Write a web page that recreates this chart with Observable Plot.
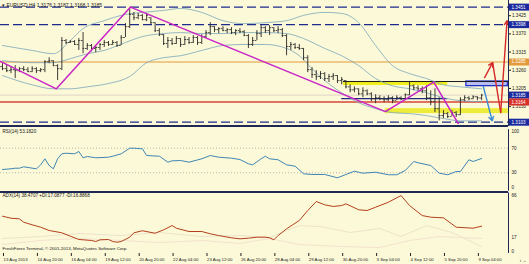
<!DOCTYPE html>
<html><head><meta charset="utf-8">
<script src="https://cdn.jsdelivr.net/npm/d3@7"></script>
<script src="https://cdn.jsdelivr.net/npm/@observablehq/plot@0.6"></script>
<style>
html,body{margin:0;padding:0;background:#fcf9d8;}
#wrap{position:relative;width:529px;height:264px;background:#fcf9d8;overflow:hidden;font-family:"Liberation Sans",Arial,sans-serif;}
#wrap svg{position:absolute;left:0;}
.t{position:absolute;white-space:nowrap;color:#151515;line-height:1;font-family:"Liberation Sans",Arial,sans-serif;}
.sep{position:absolute;left:0;width:508px;height:2px;background:#1f2757;}
</style></head><body><div id="wrap"></div>
<script>
// ---------- DATA ----------
const high = [1.3280,1.3277,1.3271,1.3274,1.3268,1.3271,1.3268,1.3271,1.3268,1.3265,1.3289,1.3298,1.3289,1.3277,1.3359,1.3353,1.3350,1.3350,1.3356,1.3374,1.3341,1.3338,1.3332,1.3341,1.3350,1.3347,1.3350,1.3347,1.3365,1.3401,1.3450,1.3435,1.3432,1.3429,1.3432,1.3419,1.3404,1.3386,1.3368,1.3359,1.3356,1.3362,1.3356,1.3362,1.3359,1.3365,1.3362,1.3368,1.3380,1.3404,1.3392,1.3389,1.3392,1.3386,1.3389,1.3383,1.3386,1.3380,1.3368,1.3359,1.3380,1.3395,1.3392,1.3395,1.3389,1.3392,1.3386,1.3368,1.3344,1.3341,1.3338,1.3326,1.3304,1.3268,1.3259,1.3256,1.3253,1.3247,1.3250,1.3244,1.3238,1.3229,1.3216,1.3210,1.3204,1.3207,1.3201,1.3192,1.3186,1.3183,1.3180,1.3183,1.3180,1.3183,1.3180,1.3189,1.3223,1.3216,1.3213,1.3210,1.3213,1.3198,1.3204,1.3177,1.3138,1.3132,1.3138,1.3135,1.3177,1.3183,1.3180,1.3183,1.3180,1.3187];
const low = [1.3259,1.3253,1.3250,1.3235,1.3253,1.3256,1.3253,1.3253,1.3250,1.3253,1.3253,1.3280,1.3271,1.3229,1.3259,1.3338,1.3341,1.3335,1.3320,1.3310,1.3320,1.3316,1.3313,1.3320,1.3329,1.3332,1.3335,1.3329,1.3335,1.3359,1.3386,1.3410,1.3413,1.3410,1.3407,1.3398,1.3374,1.3362,1.3335,1.3326,1.3335,1.3338,1.3329,1.3335,1.3338,1.3341,1.3335,1.3338,1.3356,1.3365,1.3374,1.3371,1.3377,1.3371,1.3368,1.3365,1.3371,1.3362,1.3326,1.3332,1.3350,1.3359,1.3371,1.3365,1.3374,1.3371,1.3359,1.3304,1.3320,1.3323,1.3320,1.3289,1.3253,1.3235,1.3229,1.3232,1.3226,1.3223,1.3229,1.3220,1.3216,1.3204,1.3192,1.3192,1.3183,1.3177,1.3183,1.3165,1.3159,1.3168,1.3162,1.3165,1.3159,1.3168,1.3168,1.3171,1.3183,1.3198,1.3198,1.3189,1.3168,1.3153,1.3132,1.3107,1.3114,1.3114,1.3120,1.3117,1.3123,1.3165,1.3168,1.3171,1.3168,1.3168];
const open = [1.3271,1.3265,1.3259,1.3262,1.3259,1.3265,1.3262,1.3256,1.3265,1.3259,1.3262,1.3286,1.3289,1.3274,1.3265,1.3350,1.3344,1.3347,1.3338,1.3350,1.3326,1.3335,1.3326,1.3329,1.3338,1.3344,1.3338,1.3344,1.3335,1.3359,1.3392,1.3429,1.3419,1.3426,1.3413,1.3419,1.3404,1.3380,1.3368,1.3341,1.3350,1.3341,1.3356,1.3338,1.3353,1.3344,1.3359,1.3344,1.3362,1.3374,1.3392,1.3383,1.3386,1.3380,1.3383,1.3374,1.3380,1.3377,1.3365,1.3338,1.3350,1.3371,1.3389,1.3380,1.3389,1.3380,1.3383,1.3365,1.3332,1.3338,1.3329,1.3326,1.3298,1.3262,1.3247,1.3241,1.3250,1.3235,1.3241,1.3244,1.3229,1.3229,1.3210,1.3201,1.3204,1.3189,1.3198,1.3189,1.3174,1.3177,1.3174,1.3171,1.3177,1.3168,1.3177,1.3174,1.3186,1.3213,1.3207,1.3204,1.3198,1.3177,1.3165,1.3144,1.3123,1.3129,1.3120,1.3132,1.3126,1.3171,1.3177,1.3174,1.3180,1.3176];
const close = [1.3265,1.3259,1.3262,1.3259,1.3265,1.3262,1.3256,1.3265,1.3259,1.3262,1.3286,1.3289,1.3274,1.3265,1.3350,1.3344,1.3347,1.3338,1.3350,1.3326,1.3335,1.3326,1.3329,1.3338,1.3344,1.3338,1.3344,1.3335,1.3359,1.3392,1.3429,1.3419,1.3426,1.3413,1.3426,1.3404,1.3380,1.3368,1.3341,1.3350,1.3341,1.3356,1.3338,1.3353,1.3344,1.3359,1.3344,1.3362,1.3374,1.3392,1.3383,1.3386,1.3380,1.3383,1.3374,1.3380,1.3377,1.3365,1.3338,1.3350,1.3371,1.3389,1.3380,1.3389,1.3380,1.3383,1.3365,1.3332,1.3338,1.3329,1.3326,1.3298,1.3262,1.3247,1.3241,1.3250,1.3235,1.3241,1.3244,1.3229,1.3232,1.3210,1.3201,1.3204,1.3189,1.3198,1.3189,1.3174,1.3177,1.3174,1.3171,1.3177,1.3168,1.3177,1.3174,1.3186,1.3213,1.3207,1.3204,1.3198,1.3177,1.3165,1.3144,1.3123,1.3129,1.3120,1.3132,1.3126,1.3171,1.3177,1.3174,1.3180,1.3177,1.3185];

const bbUpIdx = [0,7,12,16,19,24,29,33,38,42,47,52,57,62,67,71,76,80,84,88,92,96,100,104,108,113];
const bbUp = [1.3335,1.3320,1.3310,1.3350,1.3386,1.3410,1.3429,1.3435,1.3441,1.3447,1.3435,1.3410,1.3401,1.3404,1.3410,1.3426,1.3435,1.3432,1.3404,1.3335,1.3274,1.3250,1.3235,1.3216,1.3210,1.3204];
const bbMidIdx = [0,7,12,16,20,24,29,33,38,42,47,52,57,62,67,71,76,80,84,88,92,96,100,104,108,113];
const bbMid = [1.3289,1.3283,1.3283,1.3295,1.3310,1.3320,1.3344,1.3362,1.3371,1.3374,1.3371,1.3371,1.3374,1.3374,1.3371,1.3356,1.3326,1.3304,1.3274,1.3235,1.3213,1.3204,1.3192,1.3177,1.3168,1.3165];
const bbLowIdx = [0,7,12,16,20,25,30,34,38,42,47,52,57,62,67,70,73,76,80,84,88,92,96,100,104,108,113];
const bbLow = [1.3244,1.3216,1.3204,1.3204,1.3210,1.3220,1.3241,1.3283,1.3298,1.3304,1.3320,1.3335,1.3338,1.3338,1.3326,1.3304,1.3265,1.3229,1.3192,1.3162,1.3144,1.3132,1.3129,1.3123,1.3114,1.3107,1.3107];

const zigIdx = [-0.5,12.7,30.2,90.3,101.7,107.5];
const zigPrice = [1.3287,1.3204,1.3451,1.3135,1.3224,1.3099];

const dashedLevels = [1.3451,1.3398,1.3103];
const orangeLevel = 1.3285, redLevel = 1.3164, bidLevel = 1.3185;
const gridTicks = [1.3425,1.3370,1.3315,1.3260,1.3205,1.3150];
const boxPrices = [1.3451,1.3398,1.3285,1.3185,1.3164,1.3103];
const boxColors = ["#1b2a9e","#1b2a9e","#e39a3a","#1b2a9e","#d8312a","#1b2a9e"];

// zones: [x1, x2, priceTop, priceBottom]
const zoneX1 = [80.4, 90.3, 109.4];
const zoneX2 = [105, 119.3, 119.2];
const zoneTop = [1.3226, 1.3144, 1.3226];
const zoneBottom = [1.3214, 1.3129, 1.3212];
const zoneFill = ["#f2ef1e", "#eeec3a", "#b8bef0"];
const zoneStroke = ["none", "none", "#2233c8"];
const topLineIdx = [80.4, 119.3], topLinePrice = 1.3226;
const trendIdx = [80, 105], trendPrice = 1.3174;

const redIdx = [113.7, 115.6, 117.5, 119.0];
const redPrice = [1.3238, 1.3283, 1.3132, 1.3410];
const blueIdx = [113.4, 115.5];
const bluePrice = [1.3211, 1.3107];

const rsiIdx = [0,2,3,4,5,8,9,10,11,12,13,14,15,17,18,19,20,22,25,26,28,30,31,33,34,37,39,40,42,44,47,49,51,54,56,58,59,61,62,63,65,67,69,71,73,76,79,81,83,85,88,91,93,95,97,98,101,103,105,107,108,110,111,113];
const rsiVal = [35.3,36.4,37.4,37.4,39.7,36.4,42.9,52.7,41.8,36.4,52.7,60.8,61.8,60.8,64.6,54.3,56.4,54.3,55.3,56.9,60.8,69.9,69.9,68.9,58.0,56.9,47.2,49.4,49.9,47.2,52.7,58.0,55.3,53.7,51.5,44.6,42.9,52.7,56.9,52.7,51.1,42.9,40.7,28.3,27.2,27.2,21.8,27.2,32.5,29.3,30.9,26.7,26.7,33.7,48.3,46.2,41.8,29.3,26.7,32.0,32.0,51.1,48.3,53.2];
const rsiLevels = [70, 30];

const adxIdx = [0,2,4,5,7,9,11,14,16,18,21,22,23,25,26,27,28,30,31,33,36,38,40,41,44,47,49,51,54,56,58,60,62,63,64,65,67,70,72,74,76,78,80,81,84,86,88,91,94,96,99,101,104,107,111,113];
const adxVal = [40.7,38.5,37.8,34.1,31.3,28.7,25.1,22.6,18.9,15.3,14.2,13.1,14.9,15.3,13.1,12.3,13.1,17.8,22.6,24.8,22.1,25.8,30.5,27.6,24.0,24.0,21.5,19.6,17.1,16.0,16.7,17.8,17.8,17.1,14.9,19.6,26.9,36.0,46.9,56.7,53.1,51.3,52.3,54.2,47.7,46.9,50.5,55.9,63.2,52.3,41.4,39.6,38.9,28.7,27.6,29.8];
const diAIdx = [0,9,18,28,37,47,56,63,70,75,82,89,94,100,106,109,113];
const diAVal = [16.4,18.5,21.8,19.6,22.9,18.5,19.6,17.4,30.5,29.4,22.9,27.3,18.5,30.5,22.9,16.4,7.6];
const diBIdx = [0,9,18,28,37,47,56,63,70,80,89,96,103,113];
const diBVal = [9.8,14.2,16.4,14.2,12.0,14.2,10.9,16.4,9.8,7.6,6.5,14.2,18.5,16.4];

const xTickIdx = [0,8,16,24,32,40,48,56,64,72,80,88,96,104,112];
const xTickLabels = ["13 Aug 2013","14 Aug 20:00","16 Aug 04:00","19 Aug 12:00","20 Aug 20:00","22 Aug 04:00","23 Aug 12:00","26 Aug 20:00","28 Aug 04:00","29 Aug 12:00","30 Aug 20:00","3 Sep 04:00","4 Sep 12:00","5 Sep 20:00","9 Sep 04:00"];

const headerText = "EURUSD,H4  1.3176 1.3187 1.3168 1.3185";
const rsiTitle = "RSI(14) 53.1820";
const adxTitle = "ADX(14) 38.4707 +DI:17.0877 -DI:16.8868";
const copyText = "FreshForex Terminal, \u00a9 2001-2013, MetaQuotes Software Corp.";

// ---------- BUILD ----------
const xDomain = [-0.47, 119.34];
const priceDomain = [1.3090, 1.3471];
const font = "Liberation Sans, Arial, sans-serif";
const barColor = "#262626";
const bars = high.map((h, i) => ({i, high: h, low: low[i], open: open[i], close: close[i]}));
const pts = (ix, vs) => ix.map((i, k) => ({i, v: vs[k]}));
const zones = zoneX1.map((x1, k) => ({x1, x2: zoneX2[k], y1: zoneBottom[k], y2: zoneTop[k], fill: zoneFill[k], stroke: zoneStroke[k]}));
const segs = (ix, ps) => ix.slice(1).map((x2, k) => ({x1: ix[k], y1: ps[k], x2, y2: ps[k + 1]}));
const redSegs = segs(redIdx, redPrice);
const wrap = document.getElementById("wrap");
const axisLine = Plot.ruleX([xDomain[1]], {stroke: "#1f2757", strokeWidth: 1});

function place(svg, top) { svg.style.top = top + "px"; wrap.appendChild(svg); }

const main = Plot.plot({
  width: 529, height: 126, marginTop: 0, marginBottom: 0, marginLeft: 0, marginRight: 21,
  x: {domain: xDomain, axis: null},
  y: {domain: priceDomain, axis: "right", ticks: gridTicks, tickFormat: d => d.toFixed(4), tickSize: 2, tickPadding: 1.5, label: null},
  style: {background: "transparent", fontSize: "4.6px", fontFamily: font, color: "#222", overflow: "visible"},
  marks: [
    Plot.ruleY([bidLevel], {stroke: "#dcc9c6", strokeWidth: 0.8}),
    Plot.rect(zones, {x1: "x1", x2: "x2", y1: "y1", y2: "y2", fill: "fill", stroke: "stroke", strokeWidth: 1.3}),
    Plot.ruleY(dashedLevels, {stroke: "#1c2a8c", strokeWidth: 1.2, strokeDasharray: "9,4"}),
    Plot.ruleY([orangeLevel], {stroke: "#e39a3a", strokeWidth: 1}),
    Plot.ruleY([redLevel], {stroke: "#d8453a", strokeWidth: 1.6}),
    Plot.ruleY([topLinePrice], {x1: topLineIdx[0], x2: topLineIdx[1], stroke: "#1a1a1a", strokeWidth: 1}),
    Plot.ruleY([trendPrice], {x1: trendIdx[0], x2: trendIdx[1], stroke: "#1f2a80", strokeWidth: 1.2}),
    Plot.line(pts(bbUpIdx, bbUp), {x: "i", y: "v", stroke: "#7aa6bb", strokeWidth: 0.8, curve: "monotone-x"}),
    Plot.line(pts(bbMidIdx, bbMid), {x: "i", y: "v", stroke: "#7aa6bb", strokeWidth: 0.8, curve: "monotone-x"}),
    Plot.line(pts(bbLowIdx, bbLow), {x: "i", y: "v", stroke: "#7aa6bb", strokeWidth: 0.8, curve: "monotone-x"}),
    Plot.ruleX(bars, {x: "i", y1: "low", y2: "high", stroke: barColor, strokeWidth: 0.9}),
    Plot.ruleY(bars, {y: "open", x1: d => d.i - 0.42, x2: "i", stroke: barColor, strokeWidth: 0.8}),
    Plot.ruleY(bars, {y: "close", x1: "i", x2: d => d.i + 0.42, stroke: barColor, strokeWidth: 0.8}),
    Plot.line(pts(zigIdx, zigPrice), {x: "i", y: "v", stroke: "#c824c8", strokeWidth: 1.5}),
    Plot.arrow([redSegs[0], redSegs[2]], {x1: "x1", y1: "y1", x2: "x2", y2: "y2", stroke: "#d62a2a", strokeWidth: 1.4, headLength: 5}),
    Plot.link([redSegs[1]], {x1: "x1", y1: "y1", x2: "x2", y2: "y2", stroke: "#d62a2a", strokeWidth: 1.4}),
    Plot.arrow(segs(blueIdx, bluePrice), {x1: "x1", y1: "y1", x2: "x2", y2: "y2", stroke: "#3a8ad6", strokeWidth: 1.4, headLength: 5}),
    axisLine
  ]
});
place(main, 0);

const boxes = Plot.plot({
  width: 529, height: 126, marginTop: 0, marginBottom: 0, marginLeft: 509, marginRight: 0,
  y: {domain: priceDomain, axis: null},
  style: {background: "transparent", fontSize: "4.6px", fontFamily: font, overflow: "visible"},
  marks: [
    Plot.tickY(boxPrices.map((p, k) => ({p, c: boxColors[k]})), {y: "p", stroke: "c", strokeWidth: 7}),
    Plot.text(boxPrices, {y: d => d, text: d => d.toFixed(4), frameAnchor: "left", textAnchor: "start", dx: 2, fill: "white"})
  ]
});
place(boxes, 0);

const rsi = Plot.plot({
  width: 529, height: 64, marginTop: 2.2, marginBottom: 0.3, marginLeft: 0, marginRight: 21,
  x: {domain: xDomain, axis: null},
  y: {domain: [0, 100], axis: null},
  style: {background: "transparent", fontSize: "4.6px", fontFamily: font, color: "#222", overflow: "visible"},
  marks: [
    Plot.ruleY(rsiLevels, {stroke: "#9a9a9a", strokeWidth: 0.7, strokeDasharray: "1,2"}),
    Plot.line(pts(rsiIdx, rsiVal), {x: "i", y: "v", stroke: "#3f86b5", strokeWidth: 1}),
    Plot.text(rsiLevels, {y: d => d, text: d => String(d), frameAnchor: "right", textAnchor: "start", dx: 3, fill: "#222"}),
    Plot.text([100], {y: d => d, text: d => String(d), frameAnchor: "right", textAnchor: "start", dx: 3, dy: 2, fill: "#222"}),
    Plot.text([0], {y: d => d, text: d => String(d), frameAnchor: "right", textAnchor: "start", dx: 3, dy: -3.4, fill: "#222"}),
    axisLine
  ]
});
place(rsi, 127);

const xLabel = new Map(xTickIdx.map((d, k) => [d, xTickLabels[k]]));
const adx = Plot.plot({
  width: 529, height: 72, marginTop: 0.5, marginBottom: 11, marginLeft: 0, marginRight: 21,
  x: {domain: xDomain},
  y: {domain: [0, 66], axis: null},
  style: {background: "transparent", fontSize: "4.3px", fontFamily: font, color: "#222", overflow: "visible"},
  marks: [
    Plot.line(pts(diAIdx, diAVal), {x: "i", y: "v", stroke: "#eadcc6", strokeWidth: 0.8}),
    Plot.line(pts(diBIdx, diBVal), {x: "i", y: "v", stroke: "#f0dccc", strokeWidth: 0.8}),
    Plot.line(pts(adxIdx, adxVal), {x: "i", y: "v", stroke: "#b3401c", strokeWidth: 1}),
    Plot.text([17], {y: d => d, text: d => String(d), frameAnchor: "right", textAnchor: "start", dx: 3, fill: "#222", fontSize: 4.6}),
    Plot.text([66], {y: d => d, text: d => String(d), frameAnchor: "right", textAnchor: "start", dx: 3, dy: 3, fill: "#222", fontSize: 4.6}),
    Plot.text([0], {y: d => d, text: d => String(d), frameAnchor: "right", textAnchor: "start", dx: 3, dy: -2.3, fill: "#222", fontSize: 4.6}),
    Plot.axisX(xTickIdx, {tickFormat: d => xLabel.get(d), tickSize: 3, tickPadding: 1.5, textAnchor: "start", dx: 1, stroke: "#222", fill: "#222"}),
    axisLine
  ]
});
place(adx, 192);

// separators and texts
for (const top of [125, 190.5]) {
  const s = document.createElement("div"); s.className = "sep"; s.style.top = top + "px"; wrap.appendChild(s);
}
function txt(s, left, top, size) {
  const d = document.createElement("div"); d.className = "t"; d.textContent = s;
  d.style.left = left + "px"; d.style.top = top + "px"; d.style.fontSize = size + "px"; wrap.appendChild(d);
}
txt("\u25be " + headerText, 2, 2.5, 5);
txt(rsiTitle, 2.5, 130, 4.6);
txt(adxTitle, 2.5, 194, 4.6);
txt(copyText, 2.5, 246.5, 4.4);
</script></body></html>
